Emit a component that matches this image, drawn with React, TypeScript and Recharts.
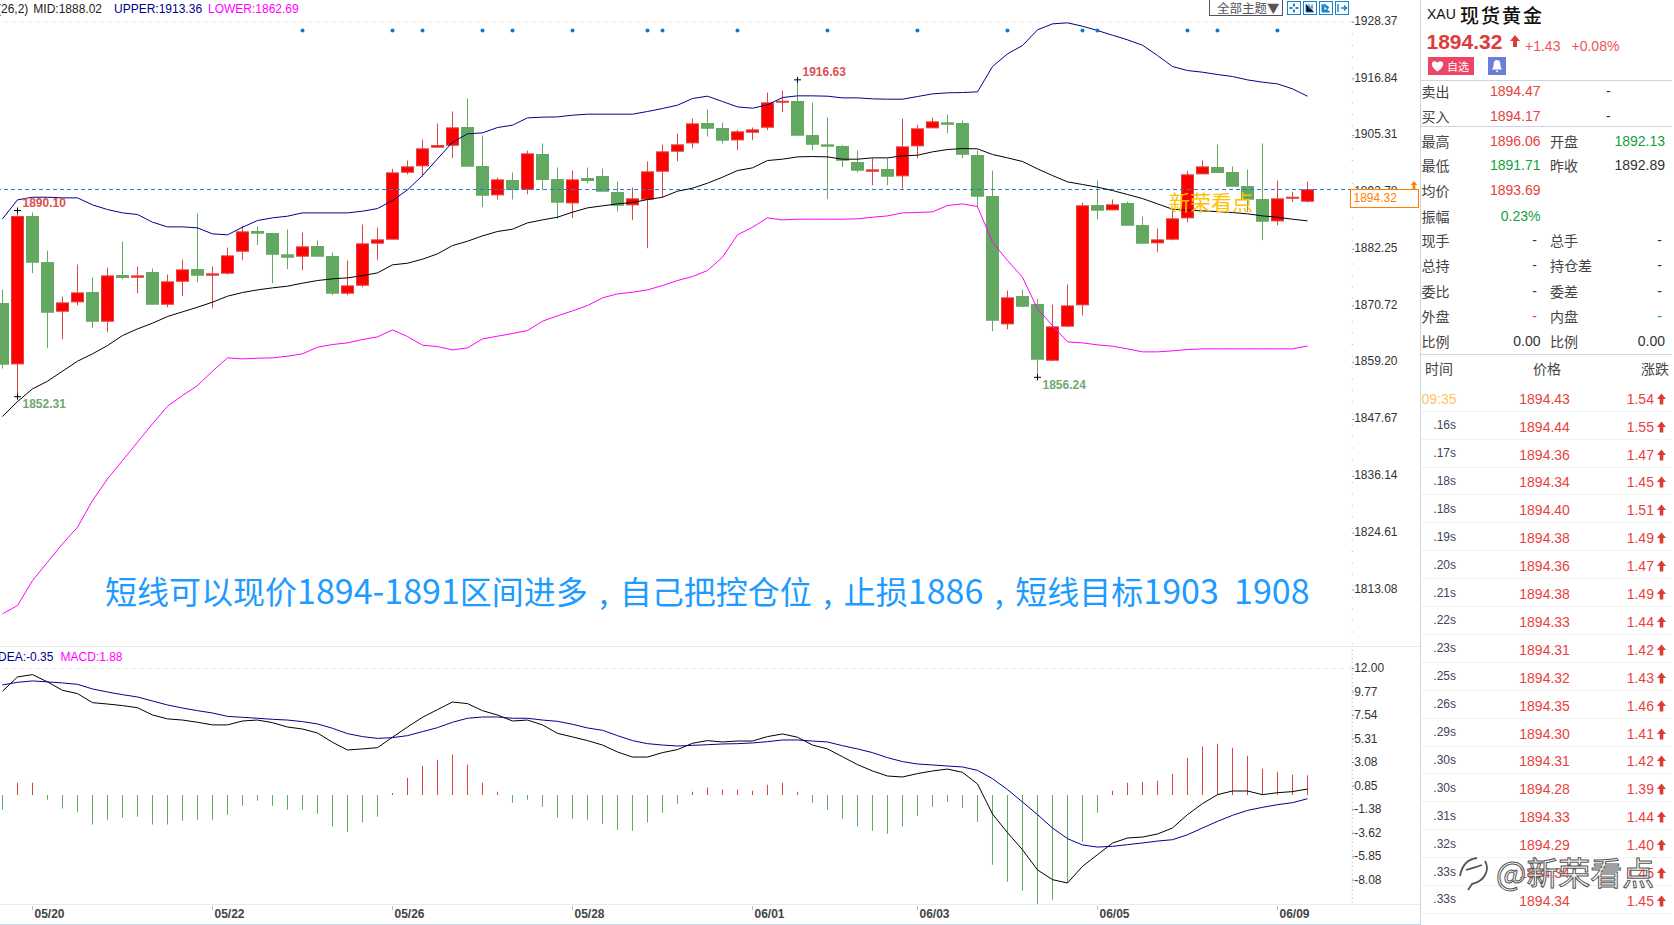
import {
  Bar,
  Cell,
  ComposedChart,
  Line,
  ReferenceDot,
  ReferenceLine,
  XAxis,
  YAxis,
} from "recharts";

const opens = [
  1871.22, 1858.97, 1888.88, 1879.54, 1869.66, 1871.56, 1873.45, 1867.63, 1876.9, 1876.56,
  1877.51, 1871.08, 1875.75, 1878.12, 1876.97, 1877.38, 1881.84, 1885.84, 1885.43, 1881.1,
  1880.83, 1882.79, 1880.76, 1873.32, 1874.94, 1883.47, 1884.28, 1897.88, 1899.17, 1902.96,
  1903.36, 1906.95, 1899.03, 1893.28, 1896.19, 1894.43, 1901.47, 1896.39, 1891.65, 1896.59,
  1897.0, 1893.75, 1891.25, 1892.4, 1898.08, 1902.14, 1903.83, 1907.76, 1906.74, 1904.44,
  1906.0, 1907.01, 1912.09, 1912.23, 1905.32, 1903.43, 1903.09, 1899.84, 1898.08, 1898.42,
  1897.14, 1903.23, 1906.88, 1907.9, 1907.76, 1901.26, 1892.94, 1867.09, 1872.64, 1871.01,
  1859.71, 1866.62, 1870.95, 1891.11, 1890.23, 1891.52, 1887.05, 1883.54, 1884.28, 1888.61,
  1897.54, 1898.83, 1897.81, 1894.97, 1892.33, 1888.0, 1892.67, 1891.99,
];
const closes = [
  1858.9, 1888.88, 1879.61, 1869.46, 1871.35, 1873.38, 1867.63, 1876.83, 1876.5, 1876.83,
  1871.08, 1875.62, 1878.05, 1876.97, 1877.24, 1880.89, 1885.77, 1885.5, 1881.23, 1880.62,
  1882.72, 1880.83, 1873.32, 1874.8, 1883.33, 1884.14, 1897.74, 1898.96, 1902.62, 1903.29,
  1906.88, 1899.1, 1893.21, 1896.32, 1894.36, 1901.6, 1896.39, 1891.79, 1896.32, 1896.19,
  1894.02, 1891.18, 1892.47, 1897.95, 1902.01, 1903.43, 1907.69, 1906.81, 1904.38, 1906.07,
  1906.47, 1911.96, 1912.29, 1905.39, 1903.56, 1903.16, 1900.31, 1898.29, 1898.35, 1897.07,
  1903.02, 1906.68, 1908.1, 1907.62, 1901.53, 1893.01, 1867.83, 1872.37, 1870.68, 1859.92,
  1866.48, 1870.74, 1891.05, 1890.17, 1891.25, 1887.12, 1883.47, 1884.14, 1888.41, 1897.34,
  1898.96, 1897.81, 1895.04, 1892.4, 1887.93, 1892.47, 1892.8, 1894.32,
];
const highs = [
  1874.06, 1890.1, 1889.69, 1881.98, 1872.64, 1879.14, 1876.5, 1878.53, 1883.8, 1878.73,
  1878.32, 1877.11, 1880.15, 1889.49, 1878.73, 1882.59, 1886.98, 1886.85, 1885.57, 1886.24,
  1885.63, 1884.01, 1881.57, 1879.95, 1887.26, 1886.65, 1898.56, 1900.25, 1904.51, 1907.76,
  1910.2, 1912.84, 1905.32, 1896.8, 1897.81, 1902.28, 1903.7, 1898.83, 1898.22, 1898.83,
  1898.62, 1895.99, 1894.77, 1900.05, 1903.5, 1905.73, 1908.77, 1910.6, 1907.96, 1906.47,
  1906.95, 1914.05, 1914.46, 1916.63, 1912.02, 1908.98, 1903.43, 1902.28, 1900.72, 1900.72,
  1908.77, 1907.49, 1908.98, 1909.59, 1908.37, 1902.28, 1898.22, 1873.86, 1874.06, 1872.23,
  1871.01, 1875.08, 1891.72, 1896.19, 1892.33, 1891.92, 1888.88, 1886.44, 1890.1, 1898.15,
  1900.25, 1903.5, 1899.03, 1898.42, 1903.7, 1896.19, 1893.89, 1895.99,
];
const lows = [
  1858.02, 1852.31, 1877.38, 1862.15, 1863.98, 1870.88, 1866.21, 1865.4, 1876.16, 1873.32,
  1871.08, 1870.47, 1872.71, 1875.55, 1870.27, 1877.11, 1880.02, 1883.06, 1875.35, 1878.19,
  1877.98, 1880.83, 1872.91, 1872.91, 1874.53, 1880.02, 1884.28, 1897.47, 1897.07, 1902.96,
  1900.72, 1899.1, 1890.77, 1892.33, 1892.33, 1893.41, 1894.36, 1888.41, 1888.54, 1895.65,
  1894.02, 1889.89, 1888.14, 1882.45, 1892.8, 1900.11, 1902.75, 1905.12, 1903.7, 1902.35,
  1904.38, 1906.41, 1910.06, 1905.39, 1902.35, 1892.4, 1898.9, 1897.88, 1895.24, 1895.24,
  1894.56, 1900.72, 1906.88, 1905.8, 1900.72, 1890.77, 1865.6, 1866.01, 1870.47, 1856.24,
  1859.51, 1866.41, 1868.78, 1888.34, 1890.23, 1887.12, 1883.47, 1881.64, 1884.07, 1887.73,
  1897.54, 1897.81, 1895.04, 1889.76, 1884.07, 1887.12, 1891.86, 1891.72,
];
const upper = [
  1888.41, 1892.26, 1892.8, 1892.8, 1892.67, 1892.67, 1891.25, 1890.3, 1889.62, 1889.29,
  1887.73, 1886.78, 1886.78, 1886.58, 1885.36, 1885.16, 1886.71, 1888.07, 1888.61, 1888.95,
  1889.62, 1889.62, 1889.62, 1889.62, 1889.96, 1890.5, 1892.13, 1894.29, 1897.2, 1900.59,
  1903.97, 1905.66, 1905.87, 1906.95, 1907.42, 1908.91, 1909.05, 1909.11, 1909.45, 1909.66,
  1909.66, 1909.66, 1909.66, 1910.2, 1910.81, 1911.48, 1912.84, 1913.31, 1912.23, 1911.14,
  1910.87, 1911.55, 1913.04, 1913.38, 1913.38, 1913.31, 1912.97, 1912.97, 1912.77, 1912.7,
  1912.7, 1913.24, 1913.78, 1913.99, 1914.05, 1914.19, 1919.33, 1921.9, 1923.6, 1926.78,
  1927.99, 1928.2, 1927.52, 1926.64, 1925.69, 1924.75, 1923.66, 1921.57, 1919.33, 1918.52,
  1918.18, 1917.71, 1917.3, 1916.62, 1916.15, 1915.81, 1914.8, 1913.31,
];
const mid = [
  1848.28, 1851.32, 1853.89, 1855.45, 1857.48, 1859.51, 1861.0, 1862.69, 1864.72, 1866.07,
  1867.23, 1868.58, 1869.53, 1870.47, 1871.49, 1872.71, 1873.45, 1873.99, 1874.4, 1874.74,
  1875.35, 1875.89, 1876.23, 1876.43, 1876.9, 1877.44, 1879.07, 1879.4, 1880.22, 1881.3,
  1882.99, 1883.87, 1884.96, 1885.84, 1886.31, 1887.59, 1888.2, 1888.74, 1889.76, 1890.64,
  1891.05, 1891.45, 1891.72, 1892.33, 1892.8, 1894.02, 1894.63, 1895.65, 1896.87, 1898.22,
  1898.76, 1900.25, 1900.52, 1900.99, 1901.06, 1900.99, 1900.52, 1900.52, 1900.79, 1900.79,
  1901.2, 1901.33, 1902.01, 1902.48, 1902.68, 1902.62, 1901.47, 1900.79, 1900.05, 1898.56,
  1897.2, 1895.92, 1895.38, 1894.84, 1894.16, 1893.35, 1892.53, 1891.45, 1890.37, 1890.17,
  1890.03, 1889.89, 1889.69, 1889.42, 1889.01, 1888.74, 1888.34, 1888.0,
];
const lower = [
  1808.22, 1809.91, 1814.98, 1818.71, 1822.43, 1825.81, 1831.23, 1835.62, 1839.35, 1843.07,
  1846.79, 1850.37, 1852.54, 1854.57, 1857.48, 1860.19, 1859.98, 1860.12, 1860.19, 1860.53,
  1861.0, 1862.35, 1862.9, 1863.23, 1863.91, 1864.45, 1865.87, 1864.52, 1862.76, 1862.49,
  1861.81, 1862.22, 1864.04, 1864.59, 1865.13, 1865.74, 1867.63, 1868.72, 1869.73, 1870.81,
  1872.37, 1873.18, 1873.52, 1873.99, 1874.87, 1875.89, 1876.7, 1877.92, 1880.62, 1885.16,
  1886.71, 1888.61, 1888.2, 1888.34, 1888.34, 1888.34, 1888.34, 1888.41, 1888.74, 1889.01,
  1889.62, 1889.69, 1889.83, 1891.11, 1891.45, 1890.91, 1883.67, 1879.95, 1876.56, 1870.14,
  1866.75, 1863.44, 1863.23, 1862.83, 1862.56, 1862.02, 1861.41, 1861.41, 1861.61, 1861.88,
  1862.02, 1862.02, 1862.02, 1862.02, 1862.02, 1862.02, 1862.02, 1862.62,
];
const macdBars = [
  -1.39, 1.17, 1.17, -0.44, -1.27, -1.64, -2.81, -2.34, -2.15, -2.06,
  -2.81, -2.81, -2.44, -2.34, -2.34, -1.87, -1.01, -0.54, -1.01, -1.39,
  -1.39, -1.77, -3.0, -3.48, -2.62, -2.06, 0.19, 1.64, 2.78, 3.35,
  3.83, 2.88, 1.17, 0.32, -0.73, -0.44, -1.11, -2.15, -2.25, -2.34,
  -2.72, -3.29, -3.38, -2.62, -1.68, -0.82, 0.32, 0.7, 0.51, 0.51,
  0.41, 0.98, 1.17, 0.32, -0.73, -1.39, -2.25, -3.0, -3.38, -3.67,
  -3.0, -1.96, -1.11, -0.63, -1.2, -2.53, -6.61, -8.22, -9.08, -10.31,
  -9.93, -8.35, -4.43, -1.68, 0.41, 1.17, 1.26, 1.36, 2.02, 3.54,
  4.59, 4.87, 4.49, 3.73, 2.5, 2.21, 1.93, 1.88,
];
const dea = [
  10.44, 10.69, 10.82, 10.73, 10.63, 10.5, 10.06, 9.77, 9.52, 9.3,
  8.92, 8.54, 8.25, 8.0, 7.78, 7.46, 7.37, 7.28, 7.18, 7.11,
  6.96, 6.74, 6.33, 5.82, 5.54, 5.37, 5.44, 5.63, 6.01, 6.39,
  6.9, 7.28, 7.4, 7.4, 7.28, 7.28, 7.11, 6.99, 6.71, 6.36,
  6.14, 5.63, 5.16, 4.87, 4.74, 4.65, 4.71, 4.77, 4.84, 4.87,
  4.94, 5.06, 5.22, 5.22, 5.12, 5.03, 4.68, 4.37, 4.02, 3.54,
  3.17, 2.94, 2.85, 2.75, 2.66, 2.34, 1.55, 0.51, -0.66, -1.86,
  -3.13, -4.14, -4.74, -4.94, -4.87, -4.71, -4.55, -4.37, -4.24, -3.77,
  -3.13, -2.5, -1.93, -1.46, -1.17, -0.92, -0.73, -0.35,
];
const dif = [
  9.84, 11.2, 11.42, 10.73, 9.93, 9.62, 8.76, 8.63, 8.48, 8.28,
  7.59, 7.22, 7.11, 6.9, 6.65, 6.65, 7.02, 7.11, 6.86, 6.45,
  6.26, 5.88, 5.0, 4.27, 4.37, 4.49, 5.48, 6.45, 7.37, 8.1,
  8.82, 8.67, 8.0, 7.59, 7.02, 7.11, 6.65, 5.85, 5.51, 5.16,
  4.74, 4.08, 3.6, 3.6, 4.02, 4.31, 4.91, 5.16, 5.03, 5.12,
  5.12, 5.54, 5.79, 5.48, 4.74, 4.37, 3.63, 2.88, 2.28, 1.8,
  1.71, 2.03, 2.28, 2.46, 2.15, 1.05, -1.8, -3.57, -5.19, -7.11,
  -8.03, -8.35, -6.77, -5.66, -4.56, -4.08, -3.99, -3.7, -3.13, -1.86,
  -0.82, 0.03, 0.38, 0.38, 0.03, 0.22, 0.32, 0.57,
];

const markerDays = [20, 26, 28, 32, 34, 38, 43, 44, 49, 55, 61, 67, 72, 73, 79, 81, 85];
const MARKER_LEVEL = 1926.64;
const LAST_PRICE = 1894.32;

const priceTicks = [1928.37, 1916.84, 1905.31, 1893.78, 1882.25, 1870.72, 1859.2, 1847.67, 1836.14, 1824.61, 1813.08];
const macdTicks = [12, 9.77, 7.54, 5.31, 3.08, 0.85, -1.38, -3.62, -5.85, -8.08];
const dateTickDays = [2, 14, 26, 38, 50, 61, 73, 85];
const dateTickLabels = ["05/20", "05/22", "05/26", "05/28", "06/01", "06/03", "06/05", "06/09"];

const extremeDays = [1, 1, 53, 69];
const extremeValues = [1890.1, 1852.31, 1916.63, 1856.24];

const quoteRows: [string, string, string, string, string, string][] = [
  ["最高", "1896.06", "r", "开盘", "1892.13", "g"],
  ["最低", "1891.71", "g", "昨收", "1892.89", "k"],
  ["均价", "1893.69", "r", "", "", "k"],
  ["振幅", "0.23%", "g", "", "", "k"],
  ["现手", "-", "k", "总手", "-", "k"],
  ["总持", "-", "k", "持仓差", "-", "k"],
  ["委比", "-", "k", "委差", "-", "k"],
  ["外盘", "-", "r", "内盘", "-", "g"],
  ["比例", "0.00", "k", "比例", "0.00", "k"],
];
const tradeTimes = ["09:35", ".16s", ".17s", ".18s", ".18s", ".19s", ".20s", ".21s", ".22s", ".23s", ".25s", ".26s", ".29s", ".30s", ".30s", ".31s", ".32s", ".33s", ".33s"];
const tradePrices = ["1894.43", "1894.44", "1894.36", "1894.34", "1894.40", "1894.38", "1894.36", "1894.38", "1894.33", "1894.31", "1894.32", "1894.35", "1894.30", "1894.31", "1894.28", "1894.33", "1894.29", "1894.34", "1894.34"];
const tradeChanges = ["1.54", "1.55", "1.47", "1.45", "1.51", "1.49", "1.47", "1.49", "1.44", "1.42", "1.43", "1.46", "1.41", "1.42", "1.39", "1.44", "1.40", "1.45", "1.45"];

const RED = "#ff0000";
const RED_EDGE = "#dc4340";
const GREEN = "#63a860";
const SANS = '"Liberation Sans", Arial, sans-serif';
const CJK = '"Noto Sans CJK SC", "Liberation Sans", sans-serif';
const TEXT_RED = "#e8413f";
const TEXT_GREEN = "#12a03c";
const TEXT_DARK = "#333";

const candles = opens.map((o, i) => ({
  idx: i,
  open: o,
  close: closes[i],
  high: highs[i],
  low: lows[i],
  range: [lows[i], highs[i]],
  upper: upper[i],
  mid: mid[i],
  lower: lower[i],
  marker: markerDays.includes(i) ? MARKER_LEVEL : null,
}));
const macdRows = macdBars.map((v, i) => ({ idx: i, bar: v, dea: dea[i], dif: dif[i] }));

function Candle(props: any) {
  const { x, y, width, height, payload } = props;
  const { open, close, high, low } = payload;
  const up = close >= open;
  const toPx = (v: number) => y + ((high - v) / (high - low)) * height;
  const top = toPx(Math.max(open, close));
  const bottom = toPx(Math.min(open, close));
  const cx = x + width / 2;
  return (
    <g>
      <line x1={cx} x2={cx} y1={y} y2={y + height} stroke={up ? RED_EDGE : GREEN} strokeWidth={1} />
      <rect
        x={x + 0.5}
        y={top}
        width={width - 1}
        height={Math.max(bottom - top, 1)}
        fill={up ? RED : GREEN}
        stroke={up ? RED_EDGE : GREEN}
        strokeWidth={1}
      />
    </g>
  );
}

function extremeMark(i: number) {
  const isHigh = i !== 1 && i !== 3;
  const color = isHigh ? "#dc4f4f" : "#6fa86f";
  return (props: any) => {
    const { cx, cy } = props;
    return (
      <g>
        <line x1={cx - 3.5} x2={cx + 3.5} y1={cy} y2={cy} stroke="#000" />
        <line x1={cx} x2={cx} y1={cy - 3} y2={cy + 3} stroke="#000" />
        <text
          x={cx + 5}
          y={cy + (isHigh ? -8 : 7)}
          dy="0.35em"
          fontSize={12}
          fontWeight={700}
          fontFamily={SANS}
          fill={color}
        >
          {extremeValues[i].toFixed(2)}
        </text>
      </g>
    );
  };
}

function DateTick(props: any) {
  const { x, y, payload } = props;
  const label = dateTickLabels[dateTickDays.indexOf(payload.value)];
  return (
    <g>
      <line x1={x} x2={x} y1={y - 6} y2={y - 2} stroke="#bbb" />
      <text x={x + 2} y={y + 2} dy="0.35em" fontSize={12} fontWeight={700} fontFamily={SANS} fill="#444">
        {label}
      </text>
    </g>
  );
}

function T(props: { x: number; y: number; size?: number; color?: string; right?: boolean; font?: string; weight?: number; spacing?: number; children: any }) {
  const { x, y, size = 14, color = TEXT_DARK, right, font = SANS, weight = 400, spacing } = props;
  return (
    <div
      style={{
        position: "absolute",
        top: y,
        ...(right ? { right: 1674 - x } : { left: x }),
        transform: "translateY(-50%)",
        fontFamily: font,
        fontSize: size,
        lineHeight: 1,
        color,
        fontWeight: weight,
        letterSpacing: spacing,
        whiteSpace: "nowrap",
      }}
    >
      {props.children}
    </div>
  );
}

function Rule(props: { x: number; y: number; w: number; h?: number; color: string }) {
  return <div style={{ position: "absolute", left: props.x, top: props.y, width: props.w, height: props.h ?? 1, background: props.color }} />;
}

function UpArrow(props: { x: number; y: number; w: number; h: number; color: string }) {
  const { x, y, w, h, color } = props;
  return (
    <svg style={{ position: "absolute", left: x, top: y }} width={w} height={h} viewBox="0 0 10 12">
      <path d="M5 0 L10 6 L7 6 L7 12 L3 12 L3 6 L0 6 Z" fill={color} />
    </svg>
  );
}

function ToolIcon(props: { x: number; kind: number }) {
  const c = "#1f82c8";
  const { x, kind } = props;
  return (
    <svg style={{ position: "absolute", left: x, top: 1 }} width={14} height={14} viewBox="0 0 14 14">
      <rect x="0.5" y="0.5" width="13" height="13" fill="#fff" stroke={c} />
      {kind === 0 && <path d="M7 2.5V5.5M7 8.5V11.5M2.5 7H5.5M8.5 7H11.5" stroke={c} strokeWidth="2" />}
      {kind === 1 && <path d="M3 3V11H11M6 3V9M9 3V9M5 6H10" stroke={c} />}
      {kind === 2 && <path d="M3 3V11H11M5 3L10 6.5L5 10Z" stroke={c} fill={c} />}
      {kind === 3 && <path d="M3 3V11M6 7H11M9 4.5L11.5 7L9 9.5" stroke={c} strokeWidth="1.5" fill="none" />}
    </svg>
  );
}

// latin runs in the note are set a little larger than the CJK glyphs, commas sit centred in a full cell
const Num = (props: { children: any }) => <span style={{ fontSize: 34 }}>{props.children}</span>;
const Comma = () => <span style={{ display: "inline-block", width: 32, textAlign: "center" }}>,</span>;

export default function App() {
  const quoteY = [140.7, 165.3, 190.3, 215.7, 240, 265, 290.7, 315.7, 340.7];
  const tone: Record<string, string> = { r: TEXT_RED, g: TEXT_GREEN, k: TEXT_DARK };
  return (
    <div style={{ position: "absolute", left: 0, top: 0, width: 1674, height: 925, overflow: "hidden", background: "#fff" }}>
      <style>{"body{margin:0}"}</style>

      {/* price pane */}
      <div style={{ position: "absolute", left: -5.2, top: 9.5 }}>
        <ComposedChart
          width={1425.2}
          height={635.5}
          data={candles}
          margin={{ top: 12, right: 0, bottom: 0, left: 0 }}
          barCategoryGap={0}
        >
          <XAxis dataKey="idx" hide padding={{ left: 0, right: 37.2 }} />
          <YAxis
            orientation="right"
            width={68}
            domain={[1801.8, 1928.37]}
            ticks={priceTicks}
            interval={0}
            tickFormatter={(v: number) => v.toFixed(2)}
            tick={{ fontSize: 12, fill: TEXT_DARK, fontFamily: SANS, dy: -1.5 }}
            tickSize={2}
            tickMargin={0}
            tickLine={{ stroke: "#888" }}
            axisLine={{ stroke: "#aaa", strokeDasharray: "1 10.5" }}
          />
          <ReferenceLine y={1928.37} stroke="#eaeaea" strokeDasharray="4 4" />
          <ReferenceLine y={LAST_PRICE} stroke="#1e7fd8" strokeDasharray="4 3" shapeRendering="crispEdges" />
          <Bar dataKey="range" barSize={13} shape={<Candle />} isAnimationActive={false} />
          <Line dataKey="upper" type="linear" stroke="#00008b" strokeWidth={1} dot={false} isAnimationActive={false} />
          <Line dataKey="mid" type="linear" stroke="#000" strokeWidth={1} dot={false} isAnimationActive={false} />
          <Line dataKey="lower" type="linear" stroke="#ff00ff" strokeWidth={1} dot={false} isAnimationActive={false} />
          <Line
            dataKey="marker"
            stroke="none"
            dot={{ r: 2, fill: "#1177cc", stroke: "none" }}
            isAnimationActive={false}
          />
          {extremeDays.map((d, i) => (
            <ReferenceDot key={i} x={d} y={extremeValues[i]} shape={extremeMark(i)} />
          ))}
        </ComposedChart>
      </div>

      {/* macd pane */}
      <div style={{ position: "absolute", left: -5.2, top: 650 }}>
        <ComposedChart
          width={1425.2}
          height={274}
          data={macdRows}
          margin={{ top: 0, right: 0, bottom: 0, left: 0 }}
          barCategoryGap={0}
        >
          <XAxis
            dataKey="idx"
            height={20}
            padding={{ left: 0, right: 37.2 }}
            ticks={dateTickDays}
            interval={0}
            tick={<DateTick />}
            tickLine={false}
            axisLine={false}
          />
          <YAxis
            orientation="right"
            width={68}
            domain={[-10.34, 13.755]}
            ticks={macdTicks}
            interval={0}
            tickFormatter={(v: number) => v.toFixed(2)}
            tick={{ fontSize: 12, fill: TEXT_DARK, fontFamily: SANS, dy: -0.5 }}
            tickSize={2}
            tickMargin={0}
            tickLine={{ stroke: "#888" }}
            axisLine={{ stroke: "#aaa", strokeDasharray: "1 3" }}
          />
          <ReferenceLine y={12} stroke="#eaeaea" strokeDasharray="4 4" />
          <Bar dataKey="bar" barSize={1} isAnimationActive={false}>
            {macdRows.map((r) => (
              <Cell key={r.idx} fill={r.bar >= 0 ? RED_EDGE : GREEN} />
            ))}
          </Bar>
          <Line dataKey="dif" type="linear" stroke="#000" strokeWidth={1} dot={false} isAnimationActive={false} />
          <Line dataKey="dea" type="linear" stroke="#00008b" strokeWidth={1} dot={false} isAnimationActive={false} />
        </ComposedChart>
      </div>

      {/* pane headers */}
      <T x={-3} y={9} size={12} color="#222">(26,2)</T>
      <T x={33.3} y={9} size={12} color="#222">MID:1888.02</T>
      <T x={114} y={9} size={12} color="#00008b">UPPER:1913.36</T>
      <T x={208} y={9} size={12} color="#ff00ff">LOWER:1862.69</T>
      <T x={-2} y={656.5} size={12} color="#00008b">DEA:-0.35</T>
      <T x={60.5} y={656.5} size={12} color="#ff00ff">MACD:1.88</T>

      {/* annotation and watermark over the price pane */}
      <T x={105} y={590} size={32} color="#1e9bff" font={CJK}>
        短线可以现价<Num>1894-1891</Num>区间进多<Comma />自己把控仓位<Comma />止损<Num>1886</Num><Comma />短线目标<Num>1903&nbsp;&nbsp;1908</Num>
      </T>
      <T x={1169} y={201} size={21} color="#ffc000" font={CJK}>新荣看点</T>

      {/* toolbar */}
      <div style={{ position: "absolute", left: 1209, top: -1, width: 72, height: 15, border: "1.5px solid #4a5568", background: "#fff" }} />
      <T x={1217} y={8} size={12.5} color="#555" font={CJK}>全部主题▼</T>
      <ToolIcon x={1287} kind={0} />
      <ToolIcon x={1303} kind={1} />
      <ToolIcon x={1319} kind={2} />
      <ToolIcon x={1335} kind={3} />

      {/* last price tag */}
      <div style={{ position: "absolute", left: 1350, top: 189, width: 67, height: 17, border: "1px solid #ff7f00", background: "#fff" }} />
      <T x={1353.5} y={198} size={12} color="#ff7f00">1894.32</T>
      <UpArrow x={1410} y={181} w={8} h={8} color="#ff7f00" />

      {/* frame */}
      <Rule x={0} y={646} w={1420} color="#e6ecee" />
      <Rule x={0} y={904} w={1420} color="#e6ecee" />
      <Rule x={0} y={924} w={1420} color="#ccd6e0" />
      <Rule x={1420} y={0} w={1} h={925} color="#ccd6e0" />

      {/* quote panel */}
      <T x={1427} y={14} size={14} color="#111">XAU</T>
      <T x={1460} y={13.5} size={19} color="#111" font={CJK} weight={500} spacing={2}>现货黄金</T>
      <T x={1426.5} y={40.5} size={21} color="#e0393e" weight={700}>1894.32</T>
      <UpArrow x={1510} y={35} w={10} h={12} color="#e0393e" />
      <T x={1525} y={46} size={14} color="#ee5555">+1.43</T>
      <T x={1571.5} y={46} size={14} color="#ee5555">+0.08%</T>
      <div style={{ position: "absolute", left: 1428, top: 57, width: 46, height: 18, background: "#ee4466" }} />
      <svg style={{ position: "absolute", left: 1431, top: 60 }} width={13} height={12} viewBox="0 0 24 22">
        <path d="M12 21 C-6 9 3 -3 12 5 C21 -3 30 9 12 21Z" fill="#fff" />
      </svg>
      <T x={1447} y={66} size={11} color="#fff" font={CJK}>自选</T>
      <div style={{ position: "absolute", left: 1488, top: 57, width: 18, height: 18, background: "#6a7fd8" }} />
      <svg style={{ position: "absolute", left: 1490, top: 59 }} width={14} height={14} viewBox="0 0 14 14">
        <path d="M7 1 C4 1 3.5 4 3.5 6 C3.5 8.5 2.5 9.5 2 10.5 H12 C11.5 9.5 10.5 8.5 10.5 6 C10.5 4 10 1 7 1Z M5.5 11.5 H8.5 L7 13.5Z" fill="#fff" />
      </svg>

      <Rule x={1421} y={80} w={251} color="#ccd6e0" />
      <T x={1421.5} y={90.7} color="#444" font={CJK}>卖出</T>
      <T x={1540.5} y={90.7} color={TEXT_RED} right>1894.47</T>
      <T x={1606} y={90.7}>-</T>
      <T x={1421.5} y={115.8} color="#444" font={CJK}>买入</T>
      <T x={1540.5} y={115.8} color={TEXT_RED} right>1894.17</T>
      <T x={1606} y={115.8}>-</T>
      <Rule x={1421} y={126} w={251} color="#ccd6e0" />

      {quoteRows.map((r, i) => (
        <div key={i}>
          <T x={1421.5} y={quoteY[i]} color="#444" font={CJK}>{r[0]}</T>
          <T x={r[1] === "-" ? 1537 : 1540.5} y={quoteY[i]} color={tone[r[2]]} right>{r[1]}</T>
          <T x={1550} y={quoteY[i]} color="#444" font={CJK}>{r[3]}</T>
          <T x={r[4] === "-" ? 1662 : 1665} y={quoteY[i]} color={tone[r[5]]} right>{r[4]}</T>
        </div>
      ))}
      <Rule x={1421} y={354} w={251} color="#ccd6e0" />

      <T x={1425} y={368} color="#444" font={CJK}>时间</T>
      <T x={1533} y={368} color="#444" font={CJK}>价格</T>
      <T x={1641} y={368} color="#444" font={CJK}>涨跌</T>

      {tradeTimes.map((t, i) => {
        const y = 398.7 + i * 27.9;
        return (
          <div key={i}>
            {i === 0 ? (
              <T x={1421.5} y={y} color="#ffc266">{t}</T>
            ) : (
              <T x={1433.3} y={y - 1.5} size={12} color="#445">{t}</T>
            )}
            <T x={1519.3} y={y} color={TEXT_RED}>{tradePrices[i]}</T>
            <T x={1626.7} y={y} color={TEXT_RED}>{tradeChanges[i]}</T>
            <UpArrow x={1657} y={y - 6} w={9} h={12} color="#e03b30" />
            <Rule x={1421} y={y + 12} w={251} color="#f2f2f2" />
          </div>
        );
      })}

      {/* site watermark */}
      <svg style={{ position: "absolute", left: 1457, top: 855 }} width={34} height={36} viewBox="0 0 34 36">
        <path d="M3 21 C5 10 11 4 20 3 M28 6 C33 15 28 26 15 29 L11 35 M9 15 C15 13 20 12 25 10" stroke="#555" strokeWidth="1.8" fill="none" />
      </svg>
      <div
        style={{
          position: "absolute",
          left: 1496,
          top: 852,
          fontFamily: CJK,
          fontSize: 32,
          lineHeight: "38px",
          color: "rgba(255,255,255,0.75)",
          WebkitTextStroke: "1px #555",
          whiteSpace: "nowrap",
        }}
      >
        @新荣看点
      </div>
    </div>
  );
}
